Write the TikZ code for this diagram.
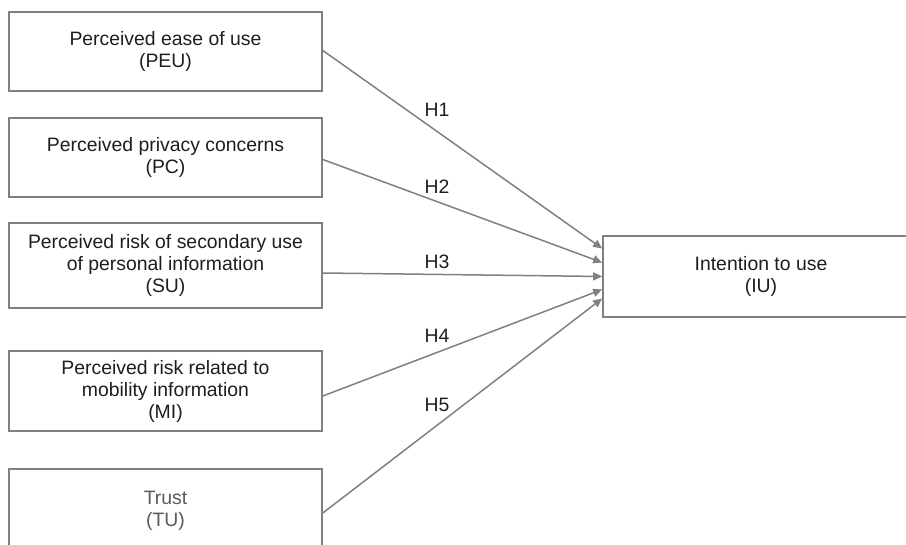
\documentclass[tikz,border=0pt]{standalone}
\usepackage{fontspec}
\setmainfont{Liberation Sans}
\definecolor{lineGray}{HTML}{808080}
\definecolor{textDark}{HTML}{1E1E1E}
\definecolor{textGray}{HTML}{5A5A5A}
\usepackage{tikz}
\usetikzlibrary{arrows.meta}

\begin{document}
\begin{tikzpicture}[
        x=1pt, y=-1pt,
        construct/.style={draw=lineGray, line width=1.6pt, fill=white, text=textDark, align=center, inner sep=4pt,
          font=\fontsize{19.4}{22}\selectfont, minimum width=313pt},
        hyp/.style={text=textDark, font=\fontsize{19.4}{22}\selectfont, inner sep=0pt},
        path/.style={-{Triangle[length=9pt, width=8pt]}, lineGray, line width=1.5pt}
      ]
        \useasboundingbox (0,0) rectangle (906,545);
        \clip (0,0) rectangle (906,545);

        \node[construct, minimum height=79pt] (peu) at (165.5,51.5) {Perceived ease of use\\(PEU)};
        \node[construct, minimum height=79pt] (pc) at (165.5,157.5) {Perceived privacy concerns\\(PC)};
        \node[construct, minimum height=85pt] (su) at (165.5,265.5) {Perceived risk of secondary use\\of personal information\\(SU)};
        \node[construct, minimum height=80pt] (mi) at (165.5,391) {Perceived risk related to\\mobility information\\(MI)};
        \node[construct, minimum height=83pt, text=textGray] (tu) at (165.5,510.5) {Trust\\(TU)};
        \node[construct, minimum width=316pt, minimum height=81pt] (iu) at (761,276.5) {Intention to use\\(IU)};

        \draw[path] ([yshift=1pt]peu.east) -- ([yshift=28pt]iu.west);
        \draw[path] ([yshift=-2pt]pc.east) -- ([yshift=14pt]iu.west);
        \draw[path] ([yshift=-7.5pt]su.east) -- ([yshift=0pt]iu.west);
        \draw[path] ([yshift=-5pt]mi.east) -- ([yshift=-13pt]iu.west);
        \draw[path] ([yshift=-2.5pt]tu.east) -- ([yshift=-22pt]iu.west);

        \node[hyp] (h1) at (437,110) {H1};
        \node[hyp] (h2) at (437,187) {H2};
        \node[hyp] (h3) at (437,262) {H3};
        \node[hyp] (h4) at (437,336) {H4};
        \node[hyp] (h5) at (437,405) {H5};
      \end{tikzpicture}
\end{document}
